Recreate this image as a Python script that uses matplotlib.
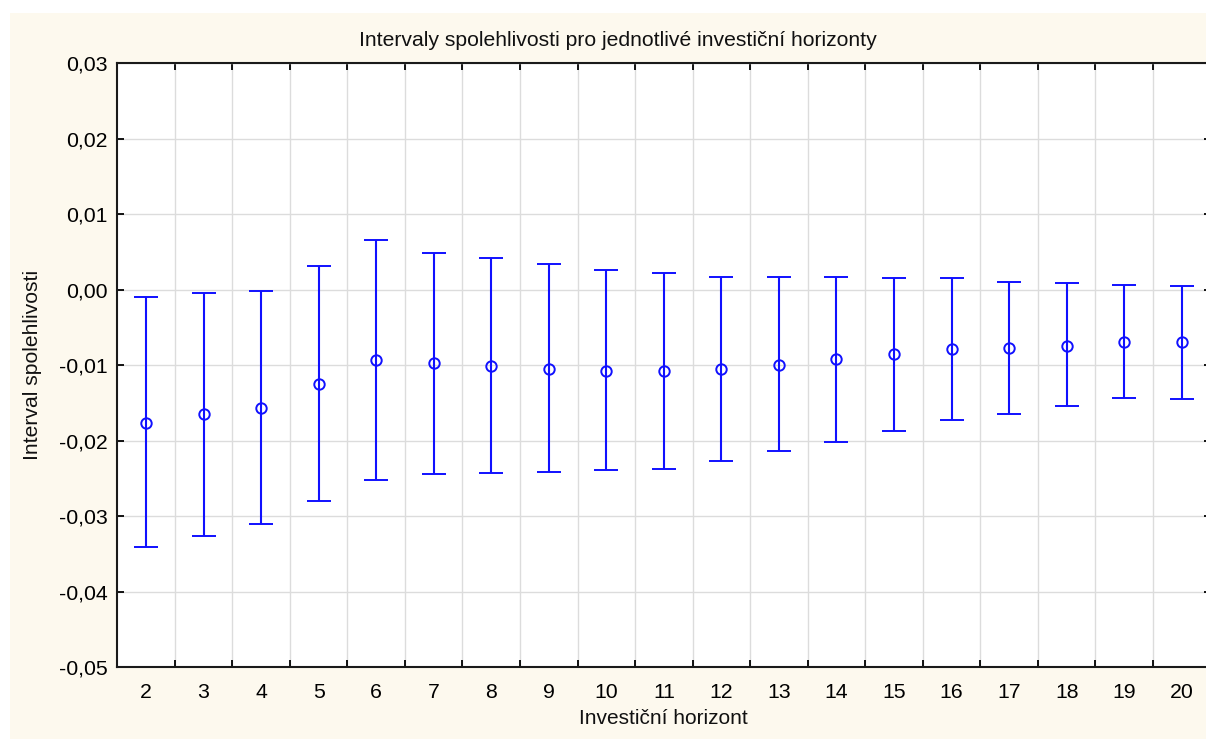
import matplotlib
matplotlib.use("Agg")
import matplotlib.pyplot as plt
from matplotlib.patches import Rectangle
from matplotlib.ticker import FixedLocator

horizons = [2, 3, 4, 5, 6, 7, 8, 9, 10, 11, 12, 13, 14, 15, 16, 17, 18, 19, 20]
means = [-0.0176, -0.0165, -0.0157, -0.0125, -0.0093, -0.0097, -0.0101, -0.0105,
         -0.0107, -0.0108, -0.0105, -0.0099, -0.0092, -0.0085, -0.0079, -0.0077,
         -0.0074, -0.0069, -0.0069]
upper = [-0.00095, -0.00038, -0.0001, 0.0032, 0.0066, 0.00494, 0.00415, 0.0034,
         0.0026, 0.0022, 0.00167, 0.00167, 0.00167, 0.0016, 0.0015, 0.0010,
         0.0009, 0.0006, 0.0005]
lower = [-0.0341, -0.0326, -0.0310, -0.0280, -0.0252, -0.0244, -0.0243, -0.0241,
         -0.0239, -0.0237, -0.0227, -0.0214, -0.0202, -0.0187, -0.0172, -0.0164,
         -0.0154, -0.0143, -0.0144]
y_ticks = [-0.05, -0.04, -0.03, -0.02, -0.01, 0.00, 0.01, 0.02, 0.03]
y_tick_labels = ["-0,05", "-0,04", "-0,03", "-0,02", "-0,01", "0,00", "0,01", "0,02", "0,03"]
title = "Intervaly spolehlivosti pro jednotlivé investiční horizonty"
xlabel = "Investiční horizont"
ylabel = "Interval spolehlivosti"

plt.rcParams['font.family'] = ['Liberation Sans', 'DejaVu Sans']

W, H = 1206, 739
fig = plt.figure(figsize=(W / 100, H / 100), dpi=100, facecolor='white')
fig.patches.append(Rectangle((10 / W, 0), 1 - 10 / W, 1 - 13 / H, transform=fig.transFigure,
                             facecolor='#FDF9EE', edgecolor='none', zorder=-10))

left, right, top, bottom = 117.2, 1210.5, 63.3, 667.3
ax = fig.add_axes([left / W, 1 - bottom / H, (right - left) / W, (bottom - top) / H])
ax.set_facecolor('white')

yerr = [[m - l for m, l in zip(means, lower)], [u - m for m, u in zip(means, upper)]]
ax.errorbar(horizons, means, yerr=yerr, fmt='o', color='#1010FF', ecolor='#1010FF',
            elinewidth=1.5, capsize=8.6, capthick=1.5, markersize=7.5,
            markerfacecolor='none', markeredgewidth=1.4, zorder=3)

ax.set_xlim(horizons[0] - 0.5, horizons[-1] + 0.5)
ax.set_ylim(y_ticks[0], y_ticks[-1])
ax.set_xticks(horizons)
ax.set_xticklabels([str(h) for h in horizons])
ax.xaxis.set_minor_locator(FixedLocator([h + 0.5 for h in horizons[:-1]]))
ax.set_yticks(y_ticks)
ax.set_yticklabels(y_tick_labels)

ax.tick_params(axis='x', which='major', length=0, pad=11, labelsize=15.3)
ax.tick_params(axis='x', which='minor', direction='in', length=5, width=1.3,
               top=True, bottom=True)
ax.tick_params(axis='y', which='major', direction='in', length=5, width=1.3,
               left=True, right=True, pad=7, labelsize=15.3)
ax.grid(True, which='minor', axis='x', color='#DCDCDC', linewidth=1.0)
ax.grid(True, which='major', axis='y', color='#DCDCDC', linewidth=1.0)
ax.grid(False, which='major', axis='x')
ax.set_axisbelow(True)
for s in ax.spines.values():
    s.set_linewidth(1.5)
    s.set_color('#1a1a1a')

fig.text(617.5 / W, 1 - 40 / H, title, ha='center', va='center', fontsize=15.2, color='#111111')
fig.text(663 / W, 1 - 719 / H, xlabel, ha='center', va='center', fontsize=15, color='#111111')
fig.text(33 / W, 1 - 365 / H, ylabel, ha='center', va='center', rotation=90, fontsize=15.2,
         color='#111111')

fig.savefig('out.png', dpi=100, facecolor='white')
